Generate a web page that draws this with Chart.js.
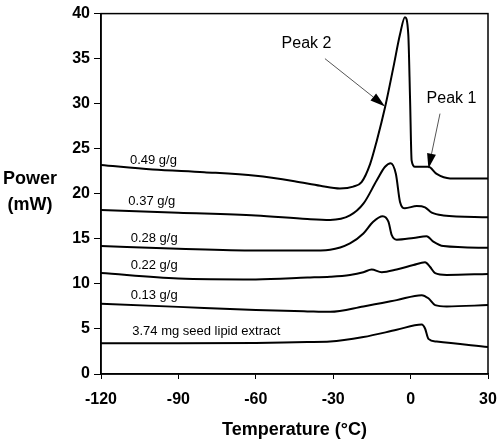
<!DOCTYPE html>
<html>
<head>
<meta charset="utf-8">
<script src="https://cdn.jsdelivr.net/npm/chart.js@4"></script>
<style>
  body { margin: 0; background: #fff; }
</style>
</head>
<body>
<canvas id="dsc" width="500" height="445"></canvas>
<script>
// DSC heating scans (temperature in °C, power in mW)
const seriesNames = ['0.49 g/g', '0.37 g/g', '0.28 g/g', '0.22 g/g', '0.13 g/g', '3.74 mg seed lipid extract']

const t049 = [-120, -100, -80, -60, -45, -35, -27.4, -22.2, -19.0, -15.7, -13.1, -9.9, -6.7, -4.1, -2.2, -0.9, -0.2, 0.4, 1.7, 6.9, 10.1, 15.3, 30]
const p049 = [23.2, 22.7, 22.4, 22.0, 21.4, 20.9, 20.6, 20.8, 21.3, 23.3, 25.9, 29.6, 34.0, 37.7, 39.6, 37.7, 30.4, 23.7, 23.0, 23.0, 22.2, 21.7, 21.7]

const t037 = [-120, -90, -60, -40, -31.2, -23.5, -18.3, -13.1, -9.9, -7.7, -5.7, -4.1, -2.2, 2.4, 5.6, 8.2, 12.7, 30]
const p037 = [18.2, 17.9, 17.6, 17.2, 17.1, 17.6, 18.9, 21.5, 23.0, 23.4, 22.2, 19.1, 18.4, 18.65, 18.5, 17.9, 17.6, 17.4]

const t028 = [-120, -90, -60, -40, -31.2, -23.5, -18.3, -14.5, -10.8, -8.6, -7.3, -5.4, 1.1, 6.2, 8.8, 12.7, 30]
const p028 = [14.2, 13.9, 13.7, 13.7, 13.8, 14.5, 15.6, 16.9, 17.5, 16.9, 15.4, 14.9, 15.1, 15.3, 14.7, 14.2, 14.0]

const t022 = [-120, -90, -60, -40, -31.2, -23.5, -18.3, -15.1, -11.2, -5.4, 1.1, 5.6, 7.5, 9.5, 14.0, 30]
const p022 = [11.2, 10.6, 10.5, 10.7, 10.8, 11.0, 11.3, 11.6, 11.3, 11.6, 12.1, 12.4, 11.9, 11.2, 11.0, 11.1]

const t013 = [-120, -90, -60, -40, -31.2, -18.3, -5.4, 4.3, 6.9, 9.5, 14.0, 30]
const p013 = [7.8, 7.45, 7.1, 6.95, 6.9, 7.5, 8.2, 8.75, 8.4, 7.65, 7.5, 7.65]

const t374 = [-120, -90, -60, -40, -31.2, -18.3, -5.4, 4.3, 5.6, 6.9, 10.1, 30]
const p374 = [3.4, 3.4, 3.45, 3.55, 3.6, 4.1, 4.9, 5.5, 5.05, 3.9, 3.6, 3.0]

// where each curve is labelled (data coords, left edge of text)
const labelT = [-108.8, -109.4, -108.5, -108.5, -108.5, -107.9]
const labelP = [23.7, 19.2, 15.1, 12.0, 8.7, 4.75]

// peak call-outs
const peakNames = ['Peak 2', 'Peak 1']
const peakTextT = [-50.0, 6.2]
const peakTextP = [36.7, 30.6]
const arrowFromT = [-33.2, 11.4]
const arrowFromP = [35.0, 28.9]
const arrowToT = [-9.9, 6.9]
const arrowToP = [29.7, 22.8]

const xTicks = [-120, -90, -60, -30, 0, 30]
const yTicks = [0, 5, 10, 15, 20, 25, 30, 35, 40]

const temps = [t049, t037, t028, t022, t013, t374]
const powers = [p049, p037, p028, p022, p013, p374]

const FONT = '"Liberation Sans", Arial, sans-serif'

const toPoints = (ts, ps) => ts.map((t, i) => ({ x: t, y: ps[i] }))

const frameAndNotes = {
  id: 'frameAndNotes',
  afterDatasetsDraw(chart) {
    const { ctx, chartArea: a, scales: { x, y } } = chart
    ctx.save()

    // box around plot
    ctx.strokeStyle = '#000'
    ctx.lineWidth = 1.5
    ctx.strokeRect(a.left, a.top, a.right - a.left, a.bottom - a.top)

    // curve labels
    ctx.fillStyle = '#000'
    ctx.font = '13px ' + FONT
    ctx.textAlign = 'left'
    ctx.textBaseline = 'middle'
    seriesNames.forEach((name, i) => {
      ctx.fillText(name, x.getPixelForValue(labelT[i]), y.getPixelForValue(labelP[i]))
    })

    // peak labels + arrows
    ctx.font = '16px ' + FONT
    peakNames.forEach((name, i) => {
      ctx.fillText(name, x.getPixelForValue(peakTextT[i]), y.getPixelForValue(peakTextP[i]))
      const x0 = x.getPixelForValue(arrowFromT[i]), y0 = y.getPixelForValue(arrowFromP[i])
      const x1 = x.getPixelForValue(arrowToT[i]), y1 = y.getPixelForValue(arrowToP[i])
      const ang = Math.atan2(y1 - y0, x1 - x0)
      const len = 15, half = 4.5
      const bx = x1 - len * Math.cos(ang), by = y1 - len * Math.sin(ang)
      ctx.strokeStyle = '#555'
      ctx.lineWidth = 1
      ctx.beginPath()
      ctx.moveTo(x0, y0)
      ctx.lineTo(bx, by)
      ctx.stroke()
      ctx.beginPath()
      ctx.moveTo(x1, y1)
      ctx.lineTo(bx + half * Math.sin(ang), by - half * Math.cos(ang))
      ctx.lineTo(bx - half * Math.sin(ang), by + half * Math.cos(ang))
      ctx.closePath()
      ctx.fill()
    })

    // y axis title, horizontal on two lines
    ctx.font = 'bold 18px ' + FONT
    ctx.textAlign = 'center'
    ctx.fillText('Power', 30, 179)
    ctx.fillText('(mW)', 30, 205)

    ctx.restore()
  }
}

new Chart(document.getElementById('dsc'), {
  type: 'line',
  data: {
    datasets: seriesNames.map((name, i) => ({
      label: name,
      data: toPoints(temps[i], powers[i]),
      borderColor: '#000',
      borderWidth: 2,
      pointRadius: 0,
      fill: false,
      cubicInterpolationMode: 'monotone'
    }))
  },
  options: {
    responsive: false,
    animation: false,
    layout: {
      padding: { top: 13, right: 12, bottom: 0, left: 0 }
    },
    plugins: {
      legend: { display: false },
      tooltip: { enabled: false }
    },
    scales: {
      x: {
        type: 'linear',
        min: -120,
        max: 30,
        afterBuildTicks: scale => { scale.ticks = xTicks.map(v => ({ value: v })) },
        afterFit: scale => {
          scale.height = 71
          scale.paddingLeft = 0
          scale.paddingRight = 0
        },
        grid: {
          drawOnChartArea: false,
          drawTicks: true,
          tickLength: 5,
          tickColor: '#000'
        },
        border: { color: '#000', width: 1.5 },
        ticks: {
          color: '#000',
          padding: 11,
          maxRotation: 0,
          font: { family: FONT, size: 16, weight: 'bold' }
        },
        title: {
          display: true,
          text: 'Temperature (°C)',
          color: '#000',
          padding: { top: 0, bottom: 4 },
          font: { family: FONT, size: 18, weight: 'bold' }
        }
      },
      y: {
        min: 0,
        max: 40,
        afterBuildTicks: scale => { scale.ticks = yTicks.map(v => ({ value: v })) },
        afterFit: scale => { scale.width = 101 },
        grid: {
          drawOnChartArea: false,
          drawTicks: true,
          tickLength: 7,
          tickColor: '#000'
        },
        border: { color: '#000', width: 1.5 },
        ticks: {
          color: '#000',
          padding: 4,
          font: { family: FONT, size: 16, weight: 'bold' }
        }
      }
    }
  },
  plugins: [frameAndNotes]
})
</script>
</body>
</html>
